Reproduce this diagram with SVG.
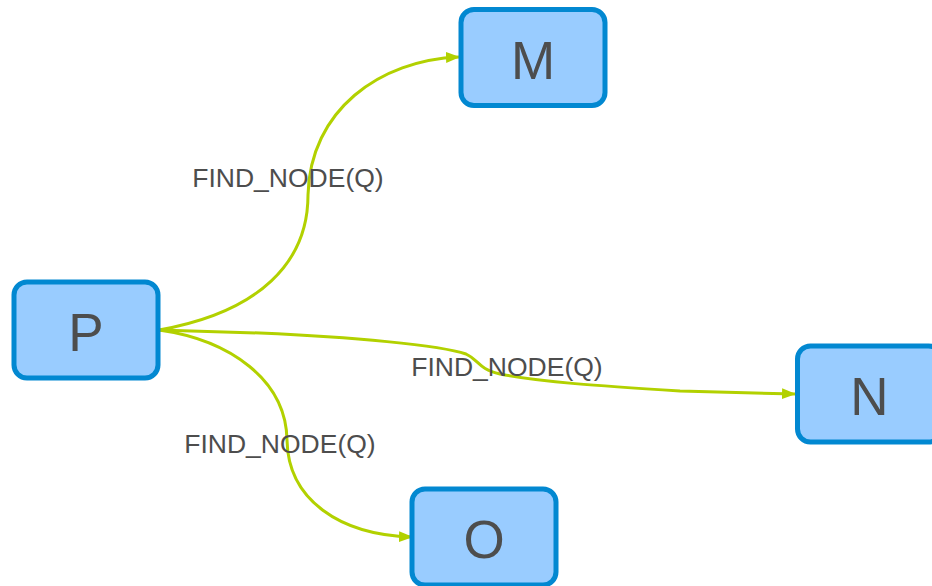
<svg xmlns="http://www.w3.org/2000/svg" width="932" height="586" viewBox="0 0 932 586">
  <style>
    .node rect { fill: #99ccff; stroke: #0288d1; stroke-width: 5; }
    .node text { font-family: "Liberation Sans", Arial, sans-serif; font-size: 53px; fill: #4d4d4d; text-anchor: middle; }
    .edge { fill: none; stroke: #b2d100; stroke-width: 3; marker-end: url(#arrow); }
    .label { font-family: "Liberation Sans", Arial, sans-serif; font-size: 26.5px; fill: #4d4d4d; text-anchor: middle; }
  </style>
  <defs>
    <marker id="arrow" viewBox="0 0 14 11" refX="13" refY="5.5" markerWidth="14" markerHeight="11" markerUnits="userSpaceOnUse" orient="auto">
      <path d="M0,0 L14,5.5 L0,11 Z" fill="#b2d100"/>
    </marker>
  </defs>
  <g id="connectors">
    <path class="edge" d="M159,330 C 260,312 308,262 308,195 C 310,110 380,60 459,57"/>
    <path class="edge" d="M159,330 L 260,333 C 350,337 440,345 466,354 C 479,360 478,369 500,374 C 540,382 600,386 680,391 L 795,394"/>
    <path class="edge" d="M159,330 C 230,340 286,380 287,440 C 288,500 340,535 412,537"/>
  </g>
  <g id="labels">
    <text class="label" x="288" y="187">FIND_NODE(Q)</text>
    <text class="label" x="507" y="376">FIND_NODE(Q)</text>
    <text class="label" x="280" y="453">FIND_NODE(Q)</text>
  </g>
  <g id="node-P" class="node">
    <rect x="14" y="282" width="144" height="96" rx="13"/>
    <text x="86" y="351">P</text>
  </g>
  <g id="node-M" class="node">
    <rect x="461" y="9.5" width="144" height="96" rx="13"/>
    <text x="533" y="79">M</text>
  </g>
  <g id="node-N" class="node">
    <rect x="797.5" y="346" width="144" height="96" rx="13"/>
    <text x="869.5" y="415">N</text>
  </g>
  <g id="node-O" class="node">
    <rect x="412" y="489" width="144" height="96" rx="13"/>
    <text x="484" y="558">O</text>
  </g>
</svg>
